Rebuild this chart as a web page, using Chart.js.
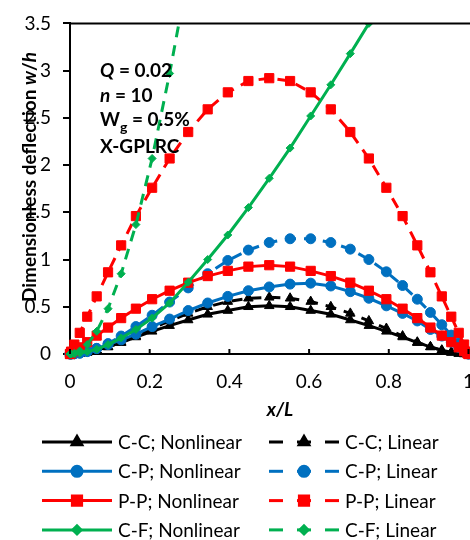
<!DOCTYPE html>
<html>
<head>
<meta charset="utf-8">
<script src="https://cdn.jsdelivr.net/npm/chart.js@4.4.1/dist/chart.umd.min.js"></script>
<style>
  html, body { margin: 0; padding: 0; overflow: hidden; background: #fff; }
  #wrap { width: 490px; height: 540px; }
</style>
</head>
<body>
<div id="wrap"><canvas id="deflectionChart" width="490" height="540"></canvas></div>
<script>
// x/L stations (Chebyshev–Gauss–Lobatto grid)
const xGrid = [0, 0.0027, 0.0109, 0.0245, 0.0432, 0.067, 0.0955, 0.1284, 0.1654, 0.2061, 0.25,
    0.2966, 0.3455, 0.396, 0.4477, 0.5, 0.5523, 0.604, 0.6545, 0.7034, 0.75,
    0.7939, 0.8346, 0.8716, 0.9045, 0.933, 0.9568, 0.9755, 0.9891, 0.9973, 1];

const ccNonlinear = [0, 0, 0.001, 0.006, 0.018, 0.04, 0.075, 0.12, 0.18, 0.24, 0.30,
    0.36, 0.42, 0.46, 0.50, 0.51, 0.50, 0.46, 0.42, 0.36, 0.30,
    0.24, 0.18, 0.12, 0.075, 0.04, 0.018, 0.006, 0.001, 0, 0];
const ccLinear = [0, 0, 0.001, 0.005, 0.016, 0.038, 0.075, 0.125, 0.19, 0.27, 0.35,
    0.43, 0.50, 0.555, 0.59, 0.60, 0.59, 0.555, 0.50, 0.43, 0.35,
    0.27, 0.19, 0.125, 0.075, 0.038, 0.016, 0.005, 0.001, 0, 0];
const cpNonlinear = [0, 0, 0.003, 0.011, 0.03, 0.06, 0.10, 0.15, 0.21, 0.29, 0.37,
    0.46, 0.54, 0.61, 0.67, 0.71, 0.74, 0.75, 0.72, 0.66, 0.59,
    0.51, 0.43, 0.35, 0.26, 0.19, 0.125, 0.07, 0.03, 0.007, 0];
const cpLinear = [0, 0, 0.002, 0.008, 0.025, 0.057, 0.11, 0.19, 0.29, 0.41, 0.55,
    0.70, 0.85, 0.99, 1.10, 1.18, 1.22, 1.22, 1.18, 1.11, 1.00,
    0.87, 0.725, 0.58, 0.44, 0.31, 0.20, 0.116, 0.052, 0.013, 0];
const ppNonlinear = [0, 0.008, 0.03, 0.07, 0.125, 0.195, 0.28, 0.38, 0.48, 0.58, 0.67,
    0.755, 0.825, 0.88, 0.925, 0.94, 0.925, 0.88, 0.825, 0.755, 0.67,
    0.58, 0.48, 0.38, 0.28, 0.195, 0.125, 0.07, 0.03, 0.008, 0];
const ppLinear = [0, 0.025, 0.10, 0.224, 0.395, 0.61, 0.865, 1.15, 1.46, 1.76, 2.07,
    2.35, 2.59, 2.77, 2.89, 2.92, 2.89, 2.77, 2.59, 2.35, 2.07,
    1.76, 1.46, 1.15, 0.865, 0.61, 0.395, 0.224, 0.10, 0.025, 0];
// cantilever curves leave the plot at the top, only the visible part is kept
const cfNonlinear = [0, 0, 0.002, 0.01, 0.025, 0.05, 0.10, 0.17, 0.26, 0.38, 0.54,
    0.76, 1.00, 1.26, 1.55, 1.86, 2.18, 2.52, 2.85, 3.18, 3.50, 3.82];
const cfLinear = [0, 0, 0.007, 0.033, 0.10, 0.24, 0.48, 0.85, 1.37, 2.07, 2.97, 4.03];

const seriesLabels = ['C-C; Nonlinear', 'C-C; Linear', 'C-P; Nonlinear', 'C-P; Linear',
    'P-P; Nonlinear', 'P-P; Linear', 'C-F; Nonlinear', 'C-F; Linear'];
const seriesValues = [ccNonlinear, ccLinear, cpNonlinear, cpLinear, ppNonlinear, ppLinear, cfNonlinear, cfLinear];

const xTicks = [0, 0.2, 0.4, 0.6, 0.8, 1];

// ------------------------------------------------------------------
const FONT = 'Lato, "Noto Sans", sans-serif';
const styles = [
    { color: '#000000', point: 'triangle', r: 5.5, dash: [] },
    { color: '#000000', point: 'triangle', r: 5.5, dash: [11, 8] },
    { color: '#0070C0', point: 'circle', r: 5, dash: [] },
    { color: '#0070C0', point: 'circle', r: 5, dash: [11, 8] },
    { color: '#FF0000', point: 'rect', r: 6.5, dash: [] },
    { color: '#FF0000', point: 'rect', r: 6.5, dash: [11, 8] },
    { color: '#00B050', point: 'rectRot', r: 4, dash: [] },
    { color: '#00B050', point: 'rectRot', r: 4, dash: [11, 8] }
];

function toPoints(values) {
    return values.map((v, i) => ({ x: xGrid[i], y: v }));
}

let datasets = seriesValues.map((vals, k) => ({
    label: seriesLabels[k],
    data: toPoints(vals),
    borderColor: styles[k].color,
    backgroundColor: styles[k].color,
    borderWidth: 3,
    borderDash: styles[k].dash,
    pointStyle: styles[k].point,
    pointRadius: styles[k].r,
    pointBorderWidth: 1,
    pointBorderColor: styles[k].color,
    pointBackgroundColor: styles[k].color,
    tension: 0,
    clip: { left: 10, right: 10, bottom: 10, top: 0 }
}));
// later series sit on top, like the spreadsheet
datasets = datasets.reverse();

function drawRuns(ctx, runs, x, y, rotate) {
    // runs: [text, font]; draws them in sequence centred at x,y
    let total = 0;
    runs.forEach(r => { ctx.font = r[1]; total += ctx.measureText(r[0]).width; });
    ctx.save();
    ctx.translate(x, y);
    if (rotate) ctx.rotate(-Math.PI / 2);
    let cx = -total / 2;
    ctx.textBaseline = 'middle';
    ctx.textAlign = 'left';
    runs.forEach(r => {
        ctx.font = r[1];
        ctx.fillText(r[0], cx, r[2] || 0);
        cx += ctx.measureText(r[0]).width;
    });
    ctx.restore();
}

function drawLeft(ctx, runs, x, y) {
    let cx = x;
    ctx.textBaseline = 'alphabetic';
    ctx.textAlign = 'left';
    runs.forEach(r => {
        ctx.font = r[1];
        ctx.fillText(r[0], cx, y + (r[2] || 0));
        cx += ctx.measureText(r[0]).width;
    });
}

const decorPlugin = {
    id: 'decor',
    afterDatasetsDraw(chart) {
        const ctx = chart.ctx;
        const area = chart.chartArea;
        const xs = chart.scales.x;
        ctx.save();
        ctx.strokeStyle = '#000';
        ctx.lineWidth = 2;
        // top frame line
        ctx.beginPath();
        ctx.moveTo(area.left, area.top);
        ctx.lineTo(area.right + 2, area.top);
        ctx.stroke();
        // inside tick marks on x axis
        xTicks.forEach(v => {
            const px = xs.getPixelForValue(v);
            ctx.beginPath();
            ctx.moveTo(px, area.bottom);
            ctx.lineTo(px, area.bottom - 5);
            ctx.stroke();
        });
        ctx.restore();
    },
    afterDraw(chart) {
        const ctx = chart.ctx;
        const area = chart.chartArea;
        ctx.save();
        ctx.fillStyle = '#000';
        const b = 'bold 19px ' + FONT;
        const bi = 'italic bold 19px ' + FONT;

        // axis titles
        drawRuns(ctx, [['Dimensionless deflection ', b], ['w', bi], ['/', b], ['h', bi]], 30, 177, true);
        drawRuns(ctx, [['x/L', bi]], 280, 410, false);

        // parameters box
        const tx = area.left + 30;
        drawLeft(ctx, [['Q', bi], [' = 0.02', b]], tx, 77);
        drawLeft(ctx, [['n', bi], [' = 10', b]], tx, 102);
        drawLeft(ctx, [['W', b], ['g', 'bold 14px ' + FONT, 6], [' = 0.5%', b]], tx, 126);
        drawLeft(ctx, [['X-GPLRC', b]], tx, 153);

        // legend, two columns
        const colX = [42, 269];
        seriesLabels.forEach((lab, k) => {
            const st = styles[k];
            const row = Math.floor(k / 2);
            const x0 = colX[k % 2];
            const y = 442 + row * 29.3;
            ctx.strokeStyle = st.color;
            ctx.fillStyle = st.color;
            ctx.lineWidth = 3;
            ctx.setLineDash(st.dash.length ? [14, 14] : []);
            ctx.beginPath();
            ctx.moveTo(x0, y);
            ctx.lineTo(x0 + 70, y);
            ctx.stroke();
            ctx.setLineDash([]);
            Chart.helpers.drawPoint(ctx, { pointStyle: st.point, radius: st.r, rotation: 0, borderWidth: 1 }, x0 + 35, y);
            ctx.fillStyle = '#000';
            ctx.font = '19px ' + FONT;
            ctx.textBaseline = 'middle';
            ctx.textAlign = 'left';
            ctx.fillText(lab, x0 + 76, y + 1);
        });
        ctx.restore();
    }
};

const ctx = document.getElementById('deflectionChart').getContext('2d');
const deflectionChart = new Chart(ctx, {
    type: 'line',
    data: { datasets: datasets },
    plugins: [decorPlugin],
    options: {
        responsive: false,
        animation: false,
        devicePixelRatio: 1,
        layout: { padding: { top: 22, right: 18, left: 0, bottom: 0 } },
        plugins: {
            legend: { display: false },
            tooltip: { enabled: false }
        },
        scales: {
            x: {
                type: 'linear',
                min: 0,
                max: 1,
                afterFit: s => { s.height = 186; },
                afterBuildTicks: s => { s.ticks = xTicks.map(v => ({ value: v })); },
                grid: { display: true, drawOnChartArea: false, drawTicks: false },
                border: { color: '#000', width: 2 },
                ticks: {
                    color: '#000',
                    font: { family: FONT, size: 19 },
                    padding: 16,
                    maxRotation: 0,
                    callback: v => String(v)
                }
            },
            y: {
                min: 0,
                max: 3.5,
                afterFit: s => { s.width = 70; },
                grid: { display: true, drawOnChartArea: false, drawTicks: true, tickLength: 7, color: '#000', lineWidth: 2 },
                border: { color: '#000', width: 2 },
                ticks: {
                    stepSize: 0.5,
                    color: '#000',
                    font: { family: FONT, size: 19 },
                    padding: 12,
                    callback: v => String(v)
                }
            }
        }
    }
});
</script>
</body>
</html>
